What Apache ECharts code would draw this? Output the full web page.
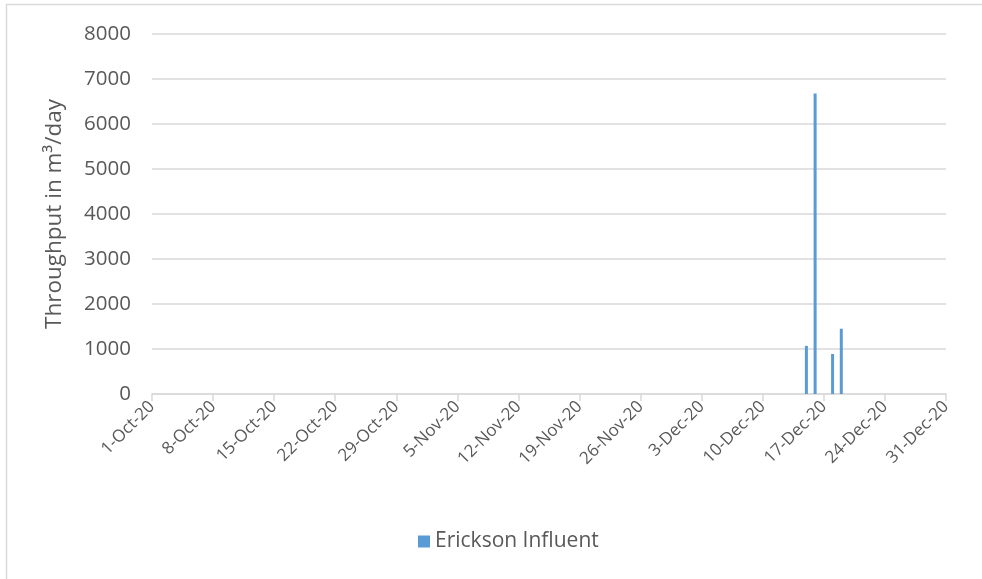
<!DOCTYPE html>
<html><head><meta charset="utf-8">
<script src="https://cdn.jsdelivr.net/npm/echarts@6/dist/echarts.min.js"></script>
<style>html,body{margin:0;padding:0;background:#fff}#c{width:982px;height:579px}</style>
</head><body><div id="c"></div>
<script>
// Data
const seriesName = 'Erickson Influent';
const yTicks = [0,1000,2000,3000,4000,5000,6000,7000,8000];
const nonZeroDates = ['15-Dec-20','16-Dec-20','18-Dec-20','19-Dec-20'];
const nonZeroValues = [1070, 6680, 890, 1450];

const months = ['Jan','Feb','Mar','Apr','May','Jun','Jul','Aug','Sep','Oct','Nov','Dec'];
const categories = [];
for (let m = 9; m <= 11; m++) {
  const days = [31,30,31][m-9];
  for (let d = 1; d <= days; d++) categories.push(d + '-' + months[m] + '-20');
}
const values = categories.map(c => {
  const i = nonZeroDates.indexOf(c);
  return i >= 0 ? nonZeroValues[i] : null;
});

const chart = echarts.init(document.getElementById('c'));
const font = 'Open Sans';
chart.setOption({
  animation: false,
  graphic: [{type:'rect', shape:{x:6.5,y:4.5,width:990,height:590}, style:{fill:'none', stroke:'#d9d9d9', lineWidth:1.5}, silent:true}],
  grid: {left:152, right:36, top:34, bottom:185},
  legend: {
    data:[seriesName], bottom:22, left:413, icon:'rect', itemWidth:12, itemHeight:12, itemGap:6,
    textStyle:{color:'#595959', fontSize:21, fontFamily:font}
  },
  xAxis: {
    type:'category', data:categories, boundaryGap:false,
    axisLine:{lineStyle:{color:'#d9d9d9', width:1.5}},
    axisTick:{interval:6, length:7, lineStyle:{color:'#d9d9d9', width:1.5}},
    axisLabel:{interval:6, rotate:45, color:'#595959', fontSize:17, fontFamily:font, margin:10}
  },
  yAxis: {
    type:'value', min:yTicks[0], max:yTicks[yTicks.length-1], interval:yTicks[1]-yTicks[0],
    name:'Throughput in m³/day', nameLocation:'middle', nameGap:86,
    nameTextStyle:{color:'#595959', fontSize:22.5, fontFamily:font},
    axisLine:{show:false}, axisTick:{show:false},
    axisLabel:{color:'#595959', fontSize:20.5, fontFamily:font, margin:21, formatter: v => String(v)},
    splitLine:{lineStyle:{color:'#d9d9d9', width:1.5}}
  },
  series: [{
    name:seriesName, type:'bar', data:values, barWidth:3,
    itemStyle:{color:'#5b9bd5'}
  }]
});
</script></body></html>
